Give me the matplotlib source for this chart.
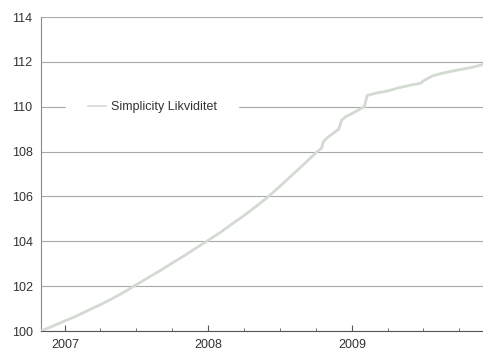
import pandas as pd
import matplotlib
matplotlib.use("Agg")
import matplotlib.pyplot as plt
import matplotlib.dates as mdates

plt.rcParams['font.family'] = ['Liberation Sans', 'DejaVu Sans']

# index values
dates = ["2006-11-01", "2006-12-01", "2007-01-01", "2007-02-01", "2007-03-01",
         "2007-04-01", "2007-05-01", "2007-06-01", "2007-07-01", "2007-08-01",
         "2007-09-01", "2007-10-01", "2007-11-01", "2007-12-01", "2008-01-01",
         "2008-02-01", "2008-03-01", "2008-04-01", "2008-05-01", "2008-06-01",
         "2008-07-01", "2008-08-01", "2008-09-01", "2008-10-01", "2008-10-15",
         "2008-10-20", "2008-11-01", "2008-11-28", "2008-12-05", "2008-12-15",
         "2009-01-01", "2009-02-01", "2009-02-08", "2009-03-01", "2009-04-01",
         "2009-05-01", "2009-06-01", "2009-06-25", "2009-07-01", "2009-07-25",
         "2009-08-25", "2009-10-01", "2009-11-01", "2009-11-30"]
values = [100.00, 100.22, 100.45, 100.68, 100.92,
          101.17, 101.44, 101.74, 102.06, 102.38,
          102.70, 103.03, 103.36, 103.70, 104.05,
          104.40, 104.77, 105.15, 105.55, 105.98,
          106.45, 106.95, 107.45, 107.95, 108.15,
          108.45, 108.65, 109.00, 109.40, 109.55,
          109.70, 110.00, 110.50, 110.60, 110.70,
          110.85, 110.97, 111.05, 111.15, 111.38,
          111.52, 111.65, 111.75, 111.88]
series_name = "Simplicity Likviditet"
y_ticks = [100, 102, 104, 106, 108, 110, 112, 114]

x = pd.to_datetime(dates)

fig = plt.figure(figsize=(4.83, 3.51), dpi=100)
ax = fig.add_axes([41 / 483, 20 / 351, 442 / 483, 314 / 351])

ax.plot(x, values, color='#d2dad2', linewidth=2.0, label=series_name, zorder=3)

ax.set_ylim(100, 114)
ax.set_yticks(y_ticks)
ax.set_xlim(pd.Timestamp("2006-11-01"), pd.Timestamp("2009-11-30"))

ax.xaxis.set_major_locator(mdates.YearLocator())
ax.xaxis.set_major_formatter(mdates.DateFormatter('%Y'))
ax.xaxis.set_minor_locator(mdates.MonthLocator(bymonth=[1, 4, 7, 10]))

ax.grid(axis='y', color='#a8a8a8', linewidth=0.8)
ax.set_axisbelow(True)

for s in ['right', 'top']:
    ax.spines[s].set_visible(False)
ax.spines['left'].set_color('#8a8a8a')
ax.spines['bottom'].set_color('#555555')

ax.tick_params(axis='y', length=0, pad=6, labelsize=9, labelcolor='#333333')
ax.tick_params(axis='x', which='major', direction='in', length=4, color='#555555',
               pad=6, labelsize=9, labelcolor='#333333')
ax.tick_params(axis='x', which='minor', direction='in', length=2, color='#555555')

leg = ax.legend(loc='center left', bbox_to_anchor=(0.057, 0.713), fontsize=9,
                handlelength=1.4, handletextpad=0.4, borderpad=1.75,
                borderaxespad=0, frameon=True, fancybox=False, framealpha=1.0,
                edgecolor='white', facecolor='white')
for line in leg.get_lines():
    line.set_linewidth(1.2)
for t in leg.get_texts():
    t.set_color('#333333')

fig.savefig("out.png", dpi=100)
